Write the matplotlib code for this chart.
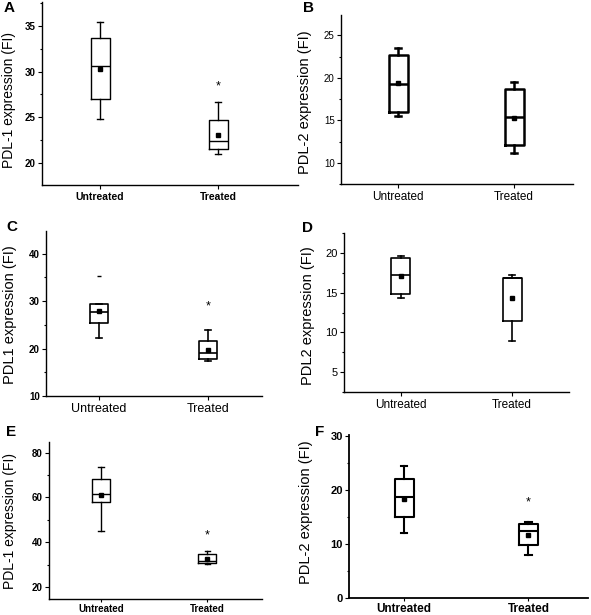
import matplotlib
matplotlib.use("Agg")
import matplotlib.pyplot as plt
from matplotlib.ticker import MultipleLocator
from matplotlib import font_manager

plt.rcParams['font.family'] = ['Liberation Sans', 'DejaVu Sans']

names = {f.name for f in font_manager.fontManager.ttflist}
HAS_NARROW = "Liberation Sans Narrow" in names
NARROW = ['Liberation Sans Narrow', 'Liberation Sans', 'DejaVu Sans'] if HAS_NARROW else ['Liberation Sans', 'DejaVu Sans']

categories = ["Untreated", "Treated"]

# per panel: [whislo, q1, med, q3, whishi, mean] for Untreated, Treated
A_untreated = [24.8, 27.0, 30.6, 33.7, 35.4, 30.3]
A_treated = [21.0, 21.5, 22.4, 24.7, 26.7, 23.1]
B_untreated = [15.5, 16.0, 19.3, 22.7, 23.5, 19.4]
B_treated = [11.1, 12.1, 15.4, 18.7, 19.5, 15.3]
C_untreated = [22.2, 25.35, 27.7, 29.4, 29.4, 28.0]
C_treated = [17.4, 17.75, 19.0, 21.6, 23.9, 19.8]
D_untreated = [14.3, 14.8, 17.2, 19.3, 19.6, 17.1]
D_treated = [8.9, 11.4, 16.9, 16.9, 17.2, 14.3]
E_untreated = [45.1, 57.8, 61.6, 68.2, 73.5, 61.0]
E_treated = [30.4, 30.9, 31.8, 34.7, 36.0, 32.6]
F_untreated = [12.0, 14.9, 18.6, 22.0, 24.4, 18.3]
F_treated = [8.0, 9.75, 12.4, 13.6, 14.0, 11.7]

C_outliers_untreated = [35.4]
star_A = 28.4
star_C = 28.9
star_E = 43.2
star_F = 17.6

ylabels = ["PDL-1 expression (FI)", "PDL-2 expression (FI)",
           "PDL1 expression (FI)", "PDL2 expression (FI)",
           "PDL-1 expression (FI)", "PDL-2 expression (FI)"]
panel_letters = ["A", "B", "C", "D", "E", "F"]

W, H = 591, 615
fig = plt.figure(figsize=(W / 100, H / 100), dpi=100)


def add_ax(l, t, r, b):
    return fig.add_axes([l / W, 1 - b / H, (r - l) / W, (b - t) / H])


def stats(v, fl=None):
    return dict(whislo=v[0], q1=v[1], med=v[2], q3=v[3], whishi=v[4],
                mean=v[5], fliers=fl or [], label="")


ysz = 1.2 if HAS_NARROW else 1.0

panels = [
    dict(rect=(42, 2, 298, 185), data=(A_untreated, A_treated), ylim=(17.6, 37.6),
         xlim=(0.508, 2.677), major=5, lw=1.0, star=star_A, tfs=7, tw='bold',
         xfs=7.5, xw='bold', yfs=10, letter=(4, 8), ylab=(2, 100), width=0.16, narrow=True),
    dict(rect=(341, 15, 573, 184), data=(B_untreated, B_treated), ylim=(7.5, 27.4),
         xlim=(0.508, 2.508), major=5, lw=1.8, star=None, tfs=7, tw='normal',
         xfs=8.5, xw='normal', yfs=10.5, letter=(303, 8), ylab=(298, 102), width=0.165, narrow=False),
    dict(rect=(46, 231, 262, 396), data=(C_untreated, C_treated), ylim=(10, 44.8),
         xlim=(0.515, 2.495), major=10, lw=1.2, star=star_C, tfs=7, tw='bold',
         xfs=9, xw='normal', yfs=10.5, letter=(6, 227), ylab=(3, 315), width=0.162, narrow=False),
    dict(rect=(344, 233, 569, 392), data=(D_untreated, D_treated), ylim=(2.5, 22.5),
         xlim=(0.49, 2.51), major=5, lw=1.2, star=None, tfs=8, tw='normal',
         xfs=8.5, xw='normal', yfs=10.5, letter=(302, 228), ylab=(301, 316), width=0.17, narrow=False),
    dict(rect=(49, 442, 262, 599), data=(E_untreated, E_treated), ylim=(14.7, 84.7),
         xlim=(0.51, 2.515), major=20, lw=1.0, star=star_E, tfs=7, tw='bold',
         xfs=7, xw='bold', yfs=10, letter=(6, 432), ylab=(3, 521), width=0.167, narrow=True),
    dict(rect=(349, 435, 588, 598), data=(F_untreated, F_treated), ylim=(0, 30.1),
         xlim=(0.555, 2.48), major=10, lw=1.5, star=star_F, tfs=8, tw='bold',
         xfs=8.5, xw='bold', yfs=10.5, letter=(315, 432), ylab=(299, 512), width=0.153, narrow=False),
]

for i, p in enumerate(panels):
    ax = add_ax(*p["rect"])
    lw = p["lw"]
    bst = [stats(p["data"][0], C_outliers_untreated if i == 2 else None),
           stats(p["data"][1])]
    ax.bxp(bst, positions=[1, 2], widths=p["width"], showmeans=True,
           showfliers=True, capwidths=0.05,
           boxprops=dict(color="black", linewidth=lw),
           medianprops=dict(color="black", linewidth=lw),
           whiskerprops=dict(color="black", linewidth=lw),
           capprops=dict(color="black", linewidth=lw),
           meanprops=dict(marker="s", markersize=2.5, markerfacecolor="black",
                          markeredgecolor="black"),
           flierprops=dict(marker="_", markersize=3, markeredgecolor="black",
                           markeredgewidth=1))
    if p["star"] is not None:
        ax.text(2, p["star"], "*", ha="center", va="center", fontsize=9,
                color="black")
    ax.set_xlim(*p["xlim"])
    ax.set_ylim(*p["ylim"])
    ax.set_xticks([1, 2])
    fam = NARROW if p["narrow"] else ['Liberation Sans', 'DejaVu Sans']
    xfs = p["xfs"] * (1.15 if (p["narrow"] and HAS_NARROW) else 1.0)
    ax.set_xticklabels(categories, fontsize=xfs, fontweight=p["xw"], family=fam)
    ax.yaxis.set_major_locator(MultipleLocator(p["major"]))
    ax.yaxis.set_minor_locator(MultipleLocator(p["major"] / 2))
    for lab in ax.get_yticklabels():
        lab.set_fontsize(p["tfs"])
        lab.set_fontweight(p["tw"])
        lab.set_family(fam)
    ax.tick_params(axis="y", which="major", direction="out", length=3, width=0.8, pad=1.5)
    ax.tick_params(axis="y", which="minor", direction="out", length=1.5, width=0.8)
    if i >= 4:
        ax.tick_params(axis="x", which="major", direction="out", length=2.5, width=0.8, pad=1)
    else:
        ax.tick_params(axis="x", which="major", direction="out", length=3, width=0.8, pad=2)
    for s in ("top", "right"):
        ax.spines[s].set_visible(False)
    for s in ("left", "bottom"):
        ax.spines[s].set_linewidth(1.0 if i != 5 else 1.3)
    fig.text(p["ylab"][0] / W, 1 - p["ylab"][1] / H, ylabels[i], rotation=90,
             ha="left", va="center", fontsize=p["yfs"] * ysz, family=NARROW)
    fig.text(p["letter"][0] / W, 1 - p["letter"][1] / H, panel_letters[i],
             ha="left", va="center", fontsize=11, fontweight="bold")

fig.savefig("out.png", dpi=100, facecolor="white")
